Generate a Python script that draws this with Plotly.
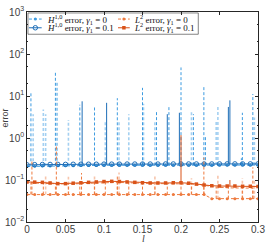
import plotly.graph_objects as go

# ---------------- data ----------------
l_nodes = [0.00, 0.01, 0.02, 0.03, 0.04, 0.05, 0.06, 0.07, 0.08, 0.09, 0.10,
           0.11, 0.12, 0.13, 0.14, 0.15, 0.16, 0.17, 0.18, 0.19, 0.20,
           0.21, 0.22, 0.23, 0.24, 0.25, 0.26, 0.27, 0.28, 0.29, 0.30]

H1_g0 = [0.210, 0.212, 0.215, 0.215, 0.218, 0.220, 0.220, 0.222, 0.222, 0.222, 0.224,
         0.224, 0.224, 0.225, 0.225, 0.225, 0.225, 0.226, 0.226, 0.226, 0.226,
         0.226, 0.226, 0.226, 0.226, 0.227, 0.227, 0.227, 0.227, 0.227, 0.227]
H1_g01 = [0.230, 0.232, 0.234, 0.235, 0.236, 0.236, 0.237, 0.238, 0.238, 0.238, 0.239,
          0.239, 0.239, 0.240, 0.240, 0.240, 0.240, 0.240, 0.241, 0.241, 0.241,
          0.241, 0.241, 0.241, 0.241, 0.242, 0.242, 0.242, 0.242, 0.242, 0.242]
L2_g0 = [0.045, 0.045, 0.045, 0.045, 0.045, 0.045, 0.045, 0.045, 0.045, 0.045, 0.045,
         0.045, 0.045, 0.045, 0.045, 0.045, 0.045, 0.045, 0.045, 0.045, 0.045,
         0.045, 0.045, 0.045, 0.036, 0.036, 0.036, 0.036, 0.036, 0.036, 0.036]
L2_g01 = [0.090, 0.089, 0.088, 0.085, 0.082, 0.082, 0.084, 0.086, 0.088, 0.090, 0.092,
          0.093, 0.092, 0.090, 0.088, 0.086, 0.085, 0.085, 0.085, 0.086, 0.086,
          0.084, 0.080, 0.076, 0.073, 0.072, 0.072, 0.072, 0.071, 0.071, 0.070]

# blue spikes (H1 error), gamma1 = 0 : positions / peak values
H1_g0_spike_l = [0.0051, 0.0369, 0.0390, 0.0686, 0.0877, 0.1173, 0.1500, 0.1682,
                 0.1843, 0.2000, 0.2161, 0.2297, 0.2317, 0.2784, 0.2797, 0.2933]
H1_g0_spike_v = [12.7, 40.0, 21.0, 6.2, 5.7, 8.9, 15.7, 4.6,
                 5.7, 48.0, 3.7, 17.4, 1.17, 0.33, 4.0, 11.2]
# lighter blue spikes, gamma1 = 0
H1_g0_light_l = [0.0080, 0.0212, 0.0242, 0.0538, 0.1017, 0.1195, 0.1322, 0.1513,
                 0.1661, 0.2136, 0.2457, 0.2479, 0.2953]
H1_g0_light_v = [3.7, 4.8, 3.7, 2.7, 2.6, 2.4, 3.7, 6.6,
                 2.4, 4.2, 2.4, 5.5, 3.1]
# blue spikes, gamma1 = 0.1
H1_g01_spike_l = [0.0716, 0.1034, 0.1822, 0.1979, 0.2615, 0.2635]
H1_g01_spike_v = [7.5, 6.9, 3.7, 4.0, 5.5, 7.9]

# orange (L2 error), gamma1 = 0 : upper level of the step pattern
L2_g0_upper_l = [0.0051, 0.0212, 0.0369, 0.0538, 0.0686, 0.0877, 0.1017, 0.1173, 0.1322,
                 0.1500, 0.1661, 0.1822, 0.2000, 0.2136, 0.2297, 0.2457, 0.2615, 0.2797, 0.2933]
L2_g0_upper_v = [0.085, 0.084, 0.080, 0.080, 0.082, 0.085, 0.087, 0.088, 0.086,
                 0.083, 0.082, 0.082, 0.082, 0.080, 0.075, 0.068, 0.065, 0.064, 0.064]
# orange spikes gamma1 = 0
L2_g0_spike_l = [0.0064, 0.0381, 0.0708, 0.1173, 0.2297, 0.2933]
L2_g0_spike_v = [0.30, 0.69, 0.147, 0.124, 0.34, 0.20]
# lighter orange spikes gamma1 = 0
L2_g0_light_l = [0.0242, 0.0538, 0.0877, 0.1195, 0.1661, 0.2136, 0.2479, 0.2797, 0.2953]
L2_g0_light_v = [0.13, 0.12, 0.13, 0.15, 0.13, 0.11, 0.13, 0.11, 0.10]
# orange spikes gamma1 = 0.1
L2_g01_spike_l = [0.2000, 0.2635]
L2_g01_spike_v = [1.17, 0.10]

x_ticks = [0, 0.05, 0.1, 0.15, 0.2, 0.25, 0.3]
x_ticktext = ["0", "0.05", "0.1", "0.15", "0.2", "0.25", "0.3"]
y_ticks = [1e-2, 1e-1, 1e0, 1e1, 1e2, 1e3]
y_ticktext = ["10<sup>−2</sup>", "10<sup>−1</sup>", "10<sup>0</sup>",
              "10<sup>1</sup>", "10<sup>2</sup>", "10<sup>3</sup>"]

legend_labels = ["<i>H</i><sup>1,0</sup> error, <i>γ</i><sub>1</sub> = 0",
                 "<i>H</i><sup>1,0</sup> error, <i>γ</i><sub>1</sub> = 0.1",
                 "<i>L</i><sup>2</sup> error, <i>γ</i><sub>1</sub> = 0",
                 "<i>L</i><sup>2</sup> error, <i>γ</i><sub>1</sub> = 0.1"]

# ---------------- styles ----------------
BLUE0 = "#3d9be0"
BLUE1 = "#1f6fb8"
BLUE_LIGHT = "rgba(90,170,230,0.55)"
OR0 = "#ee7a3e"
OR1 = "#d95319"
OR_LIGHT = "rgba(240,140,90,0.5)"
DASH = "3px,2px"


def base_at(arr, l):
    return arr[min(range(len(l_nodes)), key=lambda i: abs(l_nodes[i] - l))]


def spikes(ls, vs, base_arr):
    xs, ys = [], []
    for l, v in zip(ls, vs):
        xs += [l, l, None]
        ys += [base_at(base_arr, l), v, None]
    return xs, ys


fig = go.Figure()


def add_line(x, y, color, width=1, dash=None, mode="lines", marker=None):
    fig.add_trace(go.Scatter(x=x, y=y, mode=mode,
                             line=dict(color=color, width=width, dash=dash),
                             marker=marker, showlegend=False, hoverinfo="skip",
                             connectgaps=False))


# light spikes first (underneath)
x, y = spikes(H1_g0_light_l, H1_g0_light_v, H1_g0)
add_line(x, y, BLUE_LIGHT, width=1.6, dash=DASH)
x, y = spikes(L2_g0_light_l, L2_g0_light_v, L2_g0)
add_line(x, y, OR_LIGHT, width=1.6, dash=DASH)

# H1 gamma=0
x, y = spikes(H1_g0_spike_l, H1_g0_spike_v, H1_g0)
add_line(x, y, BLUE0, width=1, dash=DASH)
add_line(l_nodes, H1_g0, BLUE0, width=1, dash=DASH, mode="lines+markers",
         marker=dict(symbol="circle", size=3, color=BLUE0))
# H1 gamma=0.1
x, y = spikes(H1_g01_spike_l, H1_g01_spike_v, H1_g01)
add_line(x, y, BLUE1, width=1)
add_line(l_nodes, H1_g01, BLUE1, width=1, mode="lines+markers",
         marker=dict(symbol="circle-open", size=4.5, color=BLUE1, line=dict(width=1)))

# L2 gamma=0
x, y = spikes(L2_g0_upper_l, L2_g0_upper_v, L2_g0)
add_line(x, y, OR0, width=1, dash=DASH)
add_line(L2_g0_upper_l, L2_g0_upper_v, OR0, width=1, dash=DASH)
x, y = spikes(L2_g0_spike_l, L2_g0_spike_v, L2_g0)
add_line(x, y, OR0, width=1, dash=DASH)
add_line(l_nodes, L2_g0, OR0, width=1, dash=DASH, mode="lines+markers",
         marker=dict(symbol="circle", size=3, color=OR0))
# L2 gamma=0.1
x, y = spikes(L2_g01_spike_l, L2_g01_spike_v, L2_g01)
add_line(x, y, OR1, width=1)
add_line(l_nodes, L2_g01, OR1, width=1, mode="lines+markers",
         marker=dict(symbol="square", size=3.5, color=OR1))

# ---------------- manual legend on a pixel overlay axis ----------------
PX_L, PX_R, PX_T, PX_B = 26, 262, 5, 222
legend_rows = [12.3, 21.3]
legend_cols = [(28, 41, 44), (119, 131, 133)]
leg_styles = [
    (0, 0, BLUE0, DASH, dict(symbol="circle", size=3, color=BLUE0)),
    (1, 0, BLUE1, None, dict(symbol="circle-open", size=4.5, color=BLUE1, line=dict(width=1))),
    (0, 1, OR0, DASH, dict(symbol="circle", size=3, color=OR0)),
    (1, 1, OR1, None, dict(symbol="square", size=3.5, color=OR1)),
]
for (row, col, color, dash, mk), label in zip(leg_styles, legend_labels):
    x0, x1, xt = legend_cols[col]
    yy = legend_rows[row]
    fig.add_trace(go.Scatter(x=[x0, (x0 + x1) / 2, x1], y=[yy, yy, yy], xaxis="x2", yaxis="y2",
                             mode="lines", line=dict(color=color, width=1, dash=dash),
                             showlegend=False, hoverinfo="skip"))
    fig.add_trace(go.Scatter(x=[(x0 + x1) / 2], y=[yy], xaxis="x2", yaxis="y2",
                             mode="markers", marker=mk, showlegend=False, hoverinfo="skip"))
    fig.add_annotation(x=xt, y=yy, xref="x2", yref="y2", text=label, showarrow=False,
                       xanchor="left", yanchor="middle",
                       font=dict(family="Liberation Serif", size=9, color="#111"))

fig.add_shape(type="rect", xref="x2", yref="y2", x0=27, x1=201, y0=6, y1=28,
              fillcolor="white", line=dict(color="#333", width=0.6), layer="below")

axis_common = dict(showline=True, linecolor="#262626", linewidth=0.7, mirror="ticks",
                   ticks="inside", ticklen=3, tickcolor="#262626", tickwidth=0.7,
                   showgrid=False, zeroline=False, ticklabeloverflow="allow",
                   tickfont=dict(family="Liberation Sans", size=10, color="#404040"))

fig.update_layout(
    width=270, height=244,
    margin=dict(l=PX_L, r=270 - PX_R, t=PX_T, b=244 - PX_B),
    paper_bgcolor="white", plot_bgcolor="white",
    showlegend=False,
    xaxis=dict(range=[0, 0.3], tickvals=x_ticks, ticktext=x_ticktext,
               ticklabelstandoff=-2, **axis_common),
    yaxis=dict(type="log", range=[-2, 3.002], tickvals=y_ticks, ticktext=y_ticktext,
               minor=dict(ticks="inside", ticklen=1.5, tickcolor="#262626", tickwidth=0.6,
                          showgrid=False),
               **axis_common),
    xaxis2=dict(overlaying="x", range=[PX_L, PX_R], visible=False, fixedrange=True),
    yaxis2=dict(overlaying="y", range=[PX_B, PX_T], visible=False, fixedrange=True),
)

fig.add_annotation(text="error", xref="paper", yref="paper",
                   x=(4.5 - PX_L) / (PX_R - PX_L), y=(PX_B - 114) / (PX_B - PX_T),
                   textangle=-90, showarrow=False, xanchor="center", yanchor="middle",
                   font=dict(family="Liberation Sans", size=9, color="#404040"))
fig.add_annotation(text="<i>l</i>", xref="paper", yref="paper",
                   x=(145 - PX_L) / (PX_R - PX_L), y=(PX_B - 239.5) / (PX_B - PX_T),
                   showarrow=False, xanchor="center", yanchor="middle",
                   font=dict(family="Liberation Serif", size=10, color="#404040"))

fig.write_html("out.html", config={"displayModeBar": False},
               post_script="document.body.style.margin='0';")
